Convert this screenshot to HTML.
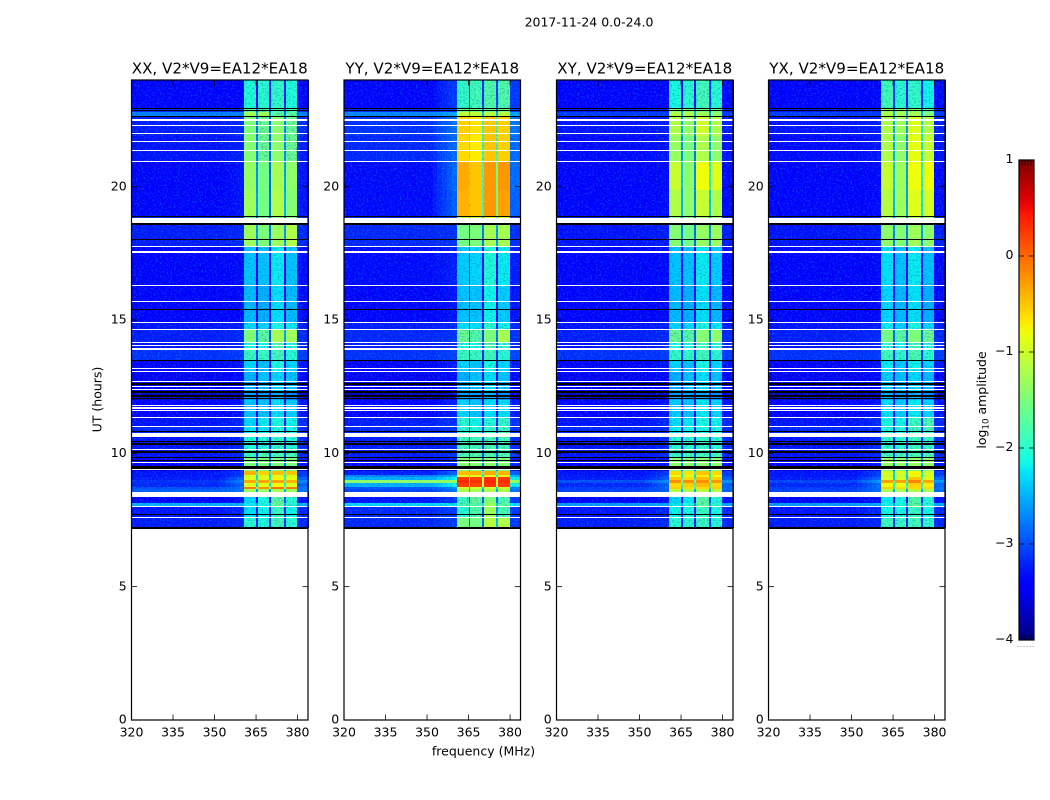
<!DOCTYPE html>
<html>
<head>
<meta charset="utf-8">
<title>2017-11-24 spectrogram</title>
<style>
html,body{margin:0;padding:0;background:#fff;}
#chart{display:block;width:1050px;height:800px;font-family:"DejaVu Sans","Liberation Sans",sans-serif;}
#chart text{fill:#000;}
</style>
</head>
<body>
<svg id="chart" xmlns="http://www.w3.org/2000/svg" width="1050" height="800" viewBox="0 0 1050 800">
  <defs>
    <filter id="speck-light" x="0" y="0" width="100%" height="100%" color-interpolation-filters="sRGB">
      <feTurbulence type="fractalNoise" baseFrequency="0.55 0.6" numOctaves="2" seed="4"/>
      <feColorMatrix type="matrix" values="0 0 0 0 0.1  0 0 0 0 0.8  0 0 0 0 1  5 0 0 0 -2.65"/>
    </filter>
    <filter id="speck-dark" x="0" y="0" width="100%" height="100%" color-interpolation-filters="sRGB">
      <feTurbulence type="fractalNoise" baseFrequency="0.55 0.6" numOctaves="2" seed="11"/>
      <feColorMatrix type="matrix" values="0 0 0 0 0  0 0 0 0 0.1  0 0 0 0 0.65  5 0 0 0 -2.6"/>
    </filter>
    <linearGradient id="jet-gradient" x1="0" y1="0" x2="0" y2="1"></linearGradient>
  </defs>
  <text x="589" y="26.3" font-size="12.5" text-anchor="middle">2017-11-24 0.0-24.0</text>
  <text transform="translate(101.5,399.5) rotate(-90)" font-size="12.5" text-anchor="middle">UT (hours)</text>
  <text x="483.5" y="755.3" font-size="12.5" text-anchor="middle">frequency (MHz)</text>
  <text transform="translate(986,400) rotate(-90)" font-size="12.5" text-anchor="middle">log<tspan font-size="8.7" dy="2.5">10</tspan><tspan dy="-2.5"> amplitude</tspan></text>
  <g id="panels"></g>
  <g id="colorbar"></g>
</svg>
<script>
// ---- Chart data ----
const panelTitles = ['XX, V2*V9=EA12*EA18', 'YY, V2*V9=EA12*EA18', 'XY, V2*V9=EA12*EA18', 'YX, V2*V9=EA12*EA18'];
const xTickValues = [320, 335, 350, 365, 380];
const yTickValues = [0, 5, 10, 15, 20];
const colorbarTicks = [-4, -3, -2, -1, 0, 1];
// Frequency band edges (MHz): background, ramp, four spectral windows with gaps, edge
const bgBand = [320, 352];
const rampBand = [352, 360.8];
const edgeBand = [379.8, 384];
const spwBands = [[360.8, 365], [365.7, 369.8], [370.5, 375], [375.8, 379.8]];
const gapBands = [[365, 365.7], [369.8, 370.5], [375, 375.8]];
const gapDrop = 1.3;
const backgroundShift = -0.2;
const smoothAbove = -1.6;
// Time block edges (UT hours, descending)
const timeEdges = [24,22.95,22.8,22.65,21.9,20.93,19.88,18.9,18.6,17.74,16.3,14.9,14.63,14.18,13.88,13.5,13.05,12.3,12,11.36,10.99,10.6,10.13,9.83,9.41,9.34,9.19,9.11,9,8.89,8.74,8.66,8.55,8.36,8.14,7.99,7.58,7.2];
// log10 amplitude per time block: [bg, ramp, spw1, spw2, spw3, spw4]
const levelsXX = [
[-3.2,-3.2,-2.05,-2.0,-1.95,-2.05],[-3,-3,-1.6,-1.7,-1.8,-1.8],[-2.55,-2.55,-1.3,-1.3,-1.7,-1.7],[-3.05,-3,-1.5,-1.6,-1.4,-1.6],
[-3.1,-3.05,-1.45,-1.6,-1.4,-1.6],[-3.2,-3.1,-1.35,-1.55,-1.25,-1.4],[-3.2,-3.1,-1.3,-1.55,-1.2,-1.45],[-3,-3,-1.6,-1.6,-1.4,-1.5],
[-3.05,-3,-1.3,-1.5,-1.3,-1.2],[-3.2,-3.15,-2.4,-2.4,-2.2,-2.4],[-3.25,-3.15,-2.45,-2.5,-2.25,-2.45],[-3.1,-3.05,-2.3,-2.3,-2.1,-2.2],
[-3.05,-3,-1.5,-1.7,-1.25,-1.3],[-3.1,-3,-2.1,-2.15,-1.8,-2.1],[-2.95,-2.9,-1.9,-1.9,-1.85,-2],[-3.2,-3.1,-2.3,-2.4,-2.1,-2.3],
[-3.3,-3.2,-2.5,-2.4,-2.3,-2.4],[-3.5,-3.4,-2.6,-2.6,-2.5,-2.7],[-3.2,-3.1,-2.4,-2.4,-2.25,-2.35],[-3.1,-3,-2.3,-2.2,-2.1,-2.15],
[-3,-3,-2.2,-2.2,-2.1,-2.1],[-3.1,-3,-2.05,-2.05,-1.95,-2.05],[-3.1,-3,-1.9,-1.8,-1.8,-1.8],[-3.2,-3.1,-1.5,-1.5,-1.5,-1.5],
[-3.4,-3.4,-1.5,-1.5,-1.5,-1.5],[-3.1,-2.9,-0.4,-0.55,-0.45,-0.5],[-3.1,-2.9,-0.95,-0.95,-0.9,-0.95],[-3.05,-2.7,-0.9,-0.9,-0.75,-0.85],
[-2.95,-2.5,-0.35,-0.3,-0.3,-0.4],[-3,-2.7,-0.9,-0.9,-0.8,-0.9],[-2.8,-2.6,-0.1,-0.2,-0.05,-0.1],[-2.7,-2.6,-1.3,-1.3,-1.2,-1.3],
[-3,-3,-2,-2,-1.9,-2],[-3.2,-3.1,-2.3,-2.1,-1.7,-2],[-2.3,-2.3,-2.2,-2.1,-1.6,-2],[-3.1,-3,-2.25,-2.15,-1.9,-2.15],[-3.05,-3,-2.0,-2.05,-1.85,-2.0]];
const levelsYY = [
[-3.2,-2.9,-1.95,-1.85,-1.75,-1.75],[-3,-2.9,-1.5,-1.5,-1.5,-1.5],[-2.5,-2.35,-1.1,-1.1,-1.15,-1.15],[-2.95,-2.6,-0.55,-0.65,-0.5,-0.55],
[-3,-2.65,-0.6,-0.7,-0.5,-0.55],[-3.15,-2.65,-0.35,-0.5,-0.25,-0.25],[-3.15,-2.7,-0.4,-0.5,-0.25,-0.3],[-3,-2.9,-1.1,-1.1,-0.9,-1],
[-3,-2.95,-1.55,-1.5,-1.25,-1.25],[-3.15,-3.05,-2.35,-2.3,-2.05,-2.2],[-3.2,-3.1,-2.4,-2.4,-2.15,-2.35],[-3.05,-3,-2.25,-2.25,-2,-2.15],
[-3,-2.95,-1.6,-1.75,-1.5,-1.25],[-3.05,-3,-2.1,-2.15,-1.8,-2],[-2.95,-2.85,-1.9,-1.9,-1.85,-2],[-3.2,-3.05,-2.3,-2.4,-2.1,-2.3],
[-3.3,-3.15,-2.5,-2.4,-2.25,-2.4],[-3.5,-3.35,-2.6,-2.6,-2.45,-2.65],[-3.2,-3.05,-2.3,-2.4,-2.25,-2.25],[-3.05,-2.95,-2.0,-2.15,-2.05,-1.95],
[-3,-2.95,-2.0,-2.05,-1.95,-1.9],[-3.05,-3,-1.85,-1.85,-1.8,-1.85],[-3.05,-2.95,-1.8,-1.75,-1.75,-1.75],[-3.15,-3.05,-1.45,-1.45,-1.4,-1.45],
[-3.4,-3.4,-1.5,-1.5,-1.5,-1.5],[-3.05,-2.7,-0.45,-0.4,-0.35,-0.4],[-2.5,-2.3,-0.9,-0.85,-0.85,-0.85],[-2.3,-1.95,0.25,0.2,0.3,0.25],
[-1.2,-1.15,0.35,0.3,0.35,0.3],[-2.3,-1.95,0.25,0.2,0.3,0.25],[-2.75,-2.5,-1,-1,-0.95,-1],[-2.85,-2.6,-1.2,-1.25,-1.2,-1.2],
[-3,-3,-1.8,-1.8,-1.6,-1.7],[-3.1,-2.9,-1.9,-1.65,-1.5,-1.8],[-2.1,-2.05,-1.8,-1.7,-1.3,-1.7],[-3,-2.9,-2,-1.75,-1.3,-1.8],[-3,-2.9,-1.5,-1.55,-1.15,-1.2]];
const levelsXY = [
[-3.2,-3.15,-2.1,-2.0,-1.85,-2.0],[-3.1,-3,-1.35,-1.35,-1.5,-1.5],[-2.9,-2.9,-1.2,-1.2,-1.3,-1.4],[-3.1,-3.05,-1.2,-1.35,-1.0,-1.2],
[-3.15,-3.1,-1.35,-1.5,-1.2,-1.4],[-3.2,-3.15,-1.05,-1.4,-0.8,-0.9],[-3.2,-3.15,-1.2,-1.4,-1.05,-1.2],[-3,-3,-1.4,-1.5,-1.2,-1.3],
[-3.1,-3.05,-1.45,-1.55,-1.35,-1.3],[-3.2,-3.15,-2.4,-2.4,-2.2,-2.35],[-3.25,-3.15,-2.45,-2.5,-2.25,-2.45],[-3.1,-3.05,-2.3,-2.3,-2.1,-2.2],
[-3.05,-3,-1.6,-1.7,-1.45,-1.4],[-3.1,-3,-2.1,-2.15,-1.85,-2.1],[-2.95,-2.9,-1.95,-1.95,-1.85,-2],[-3.2,-3.1,-2.3,-2.4,-2.1,-2.3],
[-3.3,-3.2,-2.5,-2.4,-2.25,-2.4],[-3.5,-3.4,-2.6,-2.6,-2.5,-2.7],[-3.2,-3.1,-2.35,-2.4,-2.2,-2.3],[-3.1,-3,-2.25,-2.2,-2.1,-2.15],
[-3,-3,-2.2,-2.15,-2.1,-2.1],[-3.1,-3,-2.0,-2.0,-1.95,-2.0],[-3.1,-3,-1.9,-1.85,-1.85,-1.85],[-3.2,-3.1,-1.4,-1.4,-1.4,-1.4],
[-3.4,-3.4,-1.5,-1.5,-1.5,-1.5],[-3.1,-2.9,-0.6,-0.65,-0.5,-0.6],[-3.1,-2.85,-0.85,-0.9,-0.7,-0.8],[-3.05,-2.7,-0.5,-0.6,-0.45,-0.55],
[-2.8,-2.45,-0.2,-0.2,-0.2,-0.25],[-3,-2.7,-0.6,-0.55,-0.45,-0.6],[-2.9,-2.65,-0.55,-0.6,-0.6,-0.55],[-2.85,-2.7,-1.15,-1.15,-1.1,-1.15],
[-3,-3,-2,-2,-1.8,-2],[-3.2,-3.1,-2.3,-2.2,-1.7,-2.05],[-2.4,-2.35,-2.2,-2.1,-1.65,-2],[-3.1,-3,-2.15,-2.1,-1.9,-2.1],[-3.05,-3,-2.0,-2.0,-1.9,-2.0]];
const levelsYX = [
[-3.2,-3.15,-1.85,-2.0,-1.95,-2.15],[-3.1,-3,-1.3,-1.35,-1.4,-1.6],[-2.9,-2.9,-1.2,-1.25,-1.25,-1.5],[-3.1,-3.05,-1.2,-1.3,-0.9,-1.15],
[-3.15,-3.1,-1.2,-1.4,-0.85,-1.05],[-3.2,-3.15,-1.05,-1.3,-0.8,-0.8],[-3.2,-3.15,-1.15,-1.3,-0.9,-0.95],[-3,-3,-1.3,-1.4,-1.1,-1.3],
[-3.1,-3.05,-1.4,-1.45,-1.3,-1.4],[-3.2,-3.15,-2.25,-2.4,-2.2,-2.4],[-3.25,-3.15,-2.3,-2.45,-2.25,-2.5],[-3.1,-3.05,-2.2,-2.3,-2.1,-2.3],
[-3.05,-3,-1.55,-1.7,-1.5,-1.6],[-3.1,-3,-2.0,-2.15,-1.9,-2.1],[-2.95,-2.9,-1.85,-1.95,-1.8,-2],[-3.2,-3.1,-2.2,-2.35,-2.15,-2.3],
[-3.3,-3.2,-2.35,-2.4,-2.3,-2.45],[-3.5,-3.4,-2.5,-2.6,-2.5,-2.7],[-3.2,-3.1,-2.25,-2.35,-2.2,-2.3],[-3.1,-3,-2.1,-2.15,-1.9,-1.8],
[-3,-3,-2.05,-2.05,-1.9,-1.85],[-3.1,-3,-1.95,-2.0,-1.9,-1.95],[-3.1,-3,-1.85,-1.8,-1.8,-1.8],[-3.2,-3.1,-1.35,-1.35,-1.35,-1.35],
[-3.4,-3.4,-1.5,-1.5,-1.5,-1.5],[-3.1,-2.9,-0.95,-0.95,-0.75,-0.95],[-3.1,-2.85,-1.05,-1.05,-0.85,-1],[-3.05,-2.65,-0.95,-0.95,-0.5,-0.85],
[-2.85,-2.4,-0.3,-0.3,-0.15,-0.35],[-3,-2.65,-0.8,-0.8,-0.55,-0.7],[-2.9,-2.6,-0.55,-0.6,-0.6,-0.6],[-2.85,-2.65,-1.2,-1.2,-1.15,-1.2],
[-3,-3,-1.9,-1.95,-1.8,-1.95],[-3.2,-3.1,-2.2,-2.1,-1.75,-2],[-2.4,-2.35,-2.15,-2.1,-1.65,-2],[-3.1,-3,-2.1,-2.1,-1.9,-2.1],[-3.05,-3,-1.9,-1.9,-1.85,-1.95]];
// Flagged (empty) time ranges in UT hours
const flaggedRanges = [[22.52,22.48],[22.33,22.29],[22.03,21.99],[21.7,21.66],[21.36,21.32],[20.95,20.91],[18.82,18.64],[17.76,17.72],[17.57,17.53],[16.3,16.26],[15.73,15.69],[14.91,14.87],[14.65,14.61],[14.16,14.12],[14.05,14.01],[13.94,13.87],[13.2,13.16],[13.09,13.05],[12.73,12.69],[12.51,12.47],[12.4,12.36],[11.81,11.77],[11.72,11.68],[11.61,11.57],[11.38,11.34],[11.01,10.97],[10.76,10.61],[10.18,10.14],[9.66,9.62],[9.4,9.36],[8.55,8.36],[8.01,7.97],[7.63,7.59]];
// Dark (near-zero) time ranges in UT hours
const darkRanges = [[22.95,22.91],[22.87,22.83],[22.66,22.62],[18.9,18.86],[18.62,18.58],[18.04,18],[15.43,15.39],[13.5,13.46],[12.62,12.58],[12.32,12.28],[12.19,12.11],[12.06,12.02],[10.84,10.8],[10.48,10.44],[10.37,10.33],[10.07,10.03],[9.85,9.81],[9.75,9.71],[9.51,9.41],[7.71,7.67],[7.22,7.16]];

// ---- Layout ----
const panelLefts = [131.5, 344, 556.5, 768.5];
const panelLevels = [levelsXX, levelsYY, levelsXY, levelsYX];
const panelKeys = ['xx', 'yy', 'xy', 'yx'];
const plotTop = 80;
const plotBottom = 720;
const plotWidth = 176.5;
const freqMin = 320;
const freqScale = 2.768;
const hourMax = 24;
const cbLeft = 1019;
const cbRight = 1034;
const cbTop = 160;
const cbBottom = 640;
const rampSteps = 5;
const NS = 'http://www.w3.org/2000/svg';

function make(tag, attrs, parent) {
  const el = document.createElementNS(NS, tag);
  for (const k in attrs) el.setAttribute(k, attrs[k]);
  parent.appendChild(el);
  return el;
}
function clamp01(v) { return Math.max(0, Math.min(1, v)); }
function jet(v) {
  const t = clamp01((v + 4) / 5);
  const r = t < 0.35 ? 0 : t < 0.66 ? (t - 0.35) / 0.31 : t < 0.89 ? 1 : 1 - 0.5 * (t - 0.89) / 0.11;
  const g = t < 0.125 ? 0 : t < 0.375 ? (t - 0.125) / 0.25 : t < 0.64 ? 1 : t < 0.91 ? 1 - (t - 0.64) / 0.27 : 0;
  const b = t < 0.11 ? 0.5 + 0.5 * t / 0.11 : t < 0.34 ? 1 : t < 0.65 ? 1 - (t - 0.34) / 0.31 : 0;
  return 'rgb(' + Math.round(clamp01(r) * 255) + ',' + Math.round(clamp01(g) * 255) + ',' + Math.round(clamp01(b) * 255) + ')';
}
function yScale(h) { return plotBottom - (plotBottom - plotTop) * h / hourMax; }
function cbScale(v) { return cbBottom - (v - colorbarTicks[0]) / (colorbarTicks[colorbarTicks.length - 1] - colorbarTicks[0]) * (cbBottom - cbTop); }

const panelsRoot = document.getElementById('panels');
panelTitles.forEach(function (title, p) {
  const left = panelLefts[p];
  const levels = panelLevels[p];
  const xScale = function (f) { return left + (f - freqMin) * freqScale; };
  const g = make('g', {}, panelsRoot);
  
  

  const cellsGroup = make('g', { 'shape-rendering': 'crispEdges' }, g);
  
  

  const noiseY = yScale(timeEdges[0]);
  const noiseH = yScale(timeEdges[timeEdges.length - 1]) - noiseY;
  const speckLight = make('rect', { x: left, y: noiseY, width: plotWidth, height: noiseH, filter: 'url(#speck-light)', opacity: 0.3 }, g);
  
  
  const speckDark = make('rect', { x: left, y: noiseY, width: plotWidth, height: noiseH, filter: 'url(#speck-dark)', opacity: 0.28 }, g);
  
  

  const brightGroup = make('g', { 'shape-rendering': 'crispEdges' }, g);
  
  

  function addCell(band, value, top, bottom) {
    const x0 = Math.round(xScale(band[0]));
    const x1 = Math.round(xScale(band[1]));
    const y0 = Math.round(yScale(top));
    const y1 = Math.round(yScale(bottom));
    const parent = value > smoothAbove ? brightGroup : cellsGroup;
    const cell = make('rect', { x: x0, y: y0, width: Math.max(1, x1 - x0), height: Math.max(1, y1 - y0), fill: jet(value) }, parent);
    
    
  }
  levels.forEach(function (row, b) {
    const top = timeEdges[b];
    const bottom = timeEdges[b + 1];
    const bg = row[0] + backgroundShift;
    const ramp = row[1] + backgroundShift;
    addCell(bgBand, bg, top, bottom);
    const rampSpan = rampBand[1] - rampBand[0];
    for (let k = 0; k < rampSteps; k++) {
      const f0 = rampBand[0] + rampSpan * k / rampSteps;
      const f1 = rampBand[0] + rampSpan * (k + 1) / rampSteps;
      addCell([f0, f1], bg + (ramp - bg) * (k + 1) / rampSteps, top, bottom);
    }
    addCell(edgeBand, ramp, top, bottom);
    spwBands.forEach(function (band, s) { addCell(band, row[2 + s], top, bottom); });
    gapBands.forEach(function (band, s) { addCell(band, Math.max(bg, row[2 + s] - gapDrop), top, bottom); });
  });

  flaggedRanges.forEach(function (r) {
    const y0 = Math.round(yScale(r[0]));
    const y1 = Math.round(yScale(r[1]));
    const line = make('rect', { x: left, y: y0, width: plotWidth, height: Math.max(1, y1 - y0), fill: '#fff', 'shape-rendering': 'crispEdges' }, g);
    
    
  });
  darkRanges.forEach(function (r) {
    const y0 = Math.round(yScale(r[0]));
    const y1 = Math.round(yScale(r[1]));
    const line = make('rect', { x: left, y: y0, width: plotWidth, height: Math.max(1, y1 - y0), fill: '#000', 'shape-rendering': 'crispEdges' }, g);
    
    
  });

  const frame = make('rect', { x: left, y: plotTop, width: plotWidth, height: plotBottom - plotTop, fill: 'none', stroke: '#000', 'stroke-width': 1.2 }, g);
  
  

  xTickValues.forEach(function (t) {
    const x = xScale(t);
    const tickBottom = make('line', { x1: x, x2: x, y1: plotBottom, y2: plotBottom - 5.5, stroke: '#000', 'stroke-width': 0.8 }, g);
    
    
    const tickTop = make('line', { x1: x, x2: x, y1: plotTop, y2: plotTop + 5.5, stroke: '#000', 'stroke-width': 0.8 }, g);
    
    
    const label = make('text', { x: x, y: 736.5, 'font-size': 12.5, 'text-anchor': 'middle' }, g);
    
    
    label.textContent = t;
  });
  yTickValues.forEach(function (t) {
    const y = yScale(t);
    const tickLeft = make('line', { x1: left, x2: left + 5.5, y1: y, y2: y, stroke: '#000', 'stroke-width': 0.8 }, g);
    
    
    const tickRight = make('line', { x1: left + plotWidth, x2: left + plotWidth - 5.5, y1: y, y2: y, stroke: '#000', 'stroke-width': 0.8 }, g);
    
    
    const label = make('text', { x: left - 4.8, y: y + 3.7, 'font-size': 12.5, 'text-anchor': 'end' }, g);
    
    
    label.textContent = t;
  });

  const titleEl = make('text', { x: left + plotWidth / 2, y: 73.3, 'font-size': 15.1, 'text-anchor': 'middle' }, g);
  
  
  titleEl.textContent = title;
});

// ---- Colorbar ----
const grad = document.getElementById('jet-gradient');
const cbMin = colorbarTicks[0];
const cbMax = colorbarTicks[colorbarTicks.length - 1];
for (let i = 0; i <= 60; i++) {
  const f = i / 60;
  make('stop', { offset: f, 'stop-color': jet(cbMax - f * (cbMax - cbMin)) }, grad);
}
const cb = document.getElementById('colorbar');
const cbFill = make('rect', { x: cbLeft, y: cbTop, width: cbRight - cbLeft, height: cbBottom - cbTop, fill: 'url(#jet-gradient)' }, cb);


colorbarTicks.forEach(function (t) {
  const y = cbScale(t);
  const tickA = make('line', { x1: cbLeft, x2: cbLeft + 5, y1: y, y2: y, stroke: '#000', 'stroke-width': 0.8 }, cb);
  
  
  const tickB = make('line', { x1: cbRight, x2: cbRight - 5, y1: y, y2: y, stroke: '#000', 'stroke-width': 0.8 }, cb);
  
  
  const label = make('text', { x: 1013.5, y: y + 3.2, 'font-size': 12.5, 'text-anchor': 'end' }, cb);
  
  
  label.textContent = String(t).replace('-', '\u2212');
});
[0, 1, 2, 3, 4, 5].forEach(function (i) {
  const x = cbLeft + i * 3;
  const tickTop = make('line', { x1: x, x2: x, y1: cbTop, y2: cbTop + 5.5, stroke: '#000', 'stroke-width': 0.7 }, cb);
  
  
  const tickBottom = make('line', { x1: x, x2: x, y1: cbBottom, y2: cbBottom - 5.5, stroke: '#000', 'stroke-width': 0.7 }, cb);
  
  
  const dot = make('rect', { x: x - 1.5, y: 646, width: 1, height: 1, fill: '#999' }, cb);
  
  
});
const cbFrame = make('rect', { x: cbLeft, y: cbTop, width: cbRight - cbLeft, height: cbBottom - cbTop, fill: 'none', stroke: '#000', 'stroke-width': 1.2 }, cb);


</script>
</body>
</html>
